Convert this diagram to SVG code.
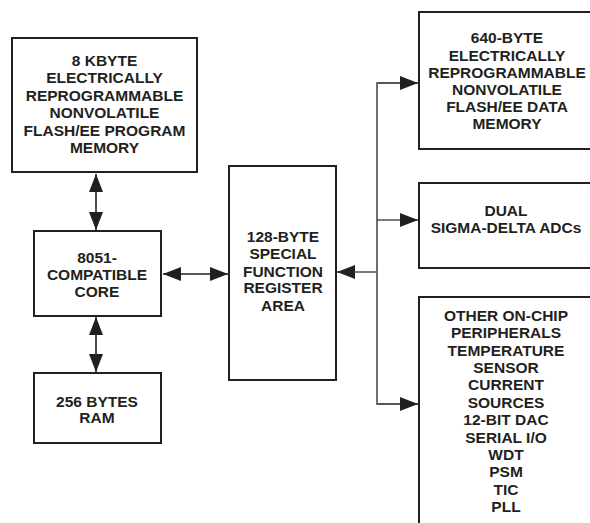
<svg xmlns="http://www.w3.org/2000/svg" width="590" height="523" viewBox="0 0 590 523">
<style>
.box{fill:#fff;stroke:#231f20;stroke-width:2}
.t{font-family:"Liberation Sans",Arial,sans-serif;font-weight:bold;font-size:15.5px;fill:#231f20;text-anchor:middle}
.c{fill:none;stroke:#231f20;stroke-width:1.6}
.b{fill:none;stroke:#4d4d4f;stroke-width:1.6}
</style>
<defs>
<marker id="ah" markerUnits="userSpaceOnUse" markerWidth="19" markerHeight="14" refX="18" refY="7" orient="auto-start-reverse" viewBox="0 0 19 14">
<path d="M0,0 L18,7 L0,14 z" fill="#231f20"/>
</marker>
</defs>
<rect width="590" height="523" fill="#fff"/>
<g id="flash-program">
<rect class="box" x="12" y="38" width="185" height="134"/>
<text class="t" x="104.5" y="66">8 KBYTE</text>
<text class="t" x="104.5" y="83.4">ELECTRICALLY</text>
<text class="t" x="104.5" y="100.8">REPROGRAMMABLE</text>
<text class="t" x="104.5" y="118.2">NONVOLATILE</text>
<text class="t" x="104.5" y="135.6">FLASH/EE PROGRAM</text>
<text class="t" x="104.5" y="153">MEMORY</text>
</g>
<g id="core">
<rect class="box" x="34" y="231" width="127" height="85"/>
<text class="t" x="97" y="262.6">8051-</text>
<text class="t" x="97" y="280">COMPATIBLE</text>
<text class="t" x="97" y="297.4">CORE</text>
</g>
<g id="ram">
<rect class="box" x="34" y="373" width="127" height="70"/>
<text class="t" x="97" y="406.7">256 BYTES</text>
<text class="t" x="97" y="423.3">RAM</text>
</g>
<g id="sfr">
<rect class="box" x="229" y="166" width="107" height="214"/>
<text class="t" x="283" y="242">128-BYTE</text>
<text class="t" x="283" y="259.3">SPECIAL</text>
<text class="t" x="283" y="276.7">FUNCTION</text>
<text class="t" x="283" y="293.3">REGISTER</text>
<text class="t" x="283" y="310.7">AREA</text>
</g>
<g id="flash-data">
<rect class="box" x="419" y="12" width="180" height="137"/>
<text class="t" x="507" y="43.3">640-BYTE</text>
<text class="t" x="507" y="60.5">ELECTRICALLY</text>
<text class="t" x="507" y="77.7">REPROGRAMMABLE</text>
<text class="t" x="507" y="94.9">NONVOLATILE</text>
<text class="t" x="507" y="112.1">FLASH/EE DATA</text>
<text class="t" x="507" y="129.3">MEMORY</text>
</g>
<g id="adcs">
<rect class="box" x="419" y="183" width="180" height="85"/>
<text class="t" x="506" y="216">DUAL</text>
<text class="t" x="506" y="233">SIGMA-DELTA ADCs</text>
</g>
<g id="peripherals">
<path class="box" d="M600,297 L419,297 L419,530" fill="none"/>
<text class="t" x="506" y="320.7">OTHER ON-CHIP</text>
<text class="t" x="506" y="338.1">PERIPHERALS</text>
<text class="t" x="506" y="355.5">TEMPERATURE</text>
<text class="t" x="506" y="372.9">SENSOR</text>
<text class="t" x="506" y="390.3">CURRENT</text>
<text class="t" x="506" y="407.7">SOURCES</text>
<text class="t" x="506" y="425.1">12-BIT DAC</text>
<text class="t" x="506" y="442.5">SERIAL I/O</text>
<text class="t" x="506" y="459.9">WDT</text>
<text class="t" x="506" y="477.3">PSM</text>
<text class="t" x="506" y="494.7">TIC</text>
<text class="t" x="506" y="512.1">PLL</text>
</g>
<g id="connectors">
<line class="c" x1="96" y1="174" x2="96" y2="230" marker-start="url(#ah)" marker-end="url(#ah)"/>
<line class="c" x1="96" y1="317" x2="96" y2="372" marker-start="url(#ah)" marker-end="url(#ah)"/>
<line class="c" x1="163" y1="274" x2="228" y2="274" marker-start="url(#ah)" marker-end="url(#ah)"/>
<path class="b" d="M418,83 L377,83 L377,404 L418,404"/>
<line class="b" x1="377" y1="83" x2="418" y2="83" marker-end="url(#ah)"/>
<line class="b" x1="377" y1="220" x2="418" y2="220" marker-end="url(#ah)"/>
<line class="b" x1="377" y1="404" x2="418" y2="404" marker-end="url(#ah)"/>
<line class="b" x1="377" y1="272" x2="337" y2="272" marker-end="url(#ah)"/>
</g>
</svg>
